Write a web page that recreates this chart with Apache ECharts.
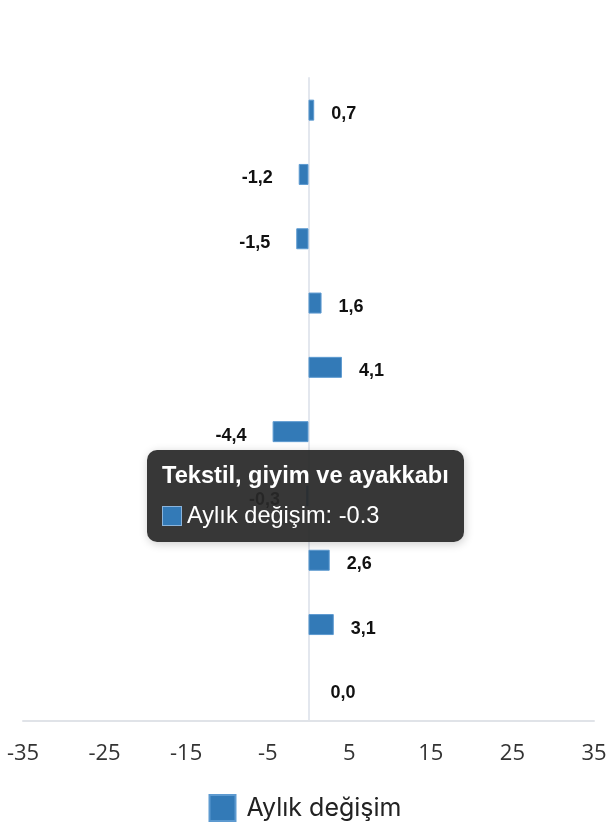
<!DOCTYPE html>
<html>
<head>
<meta charset="utf-8">
<script src="https://cdn.jsdelivr.net/npm/echarts@6/dist/echarts.min.js"></script>
<style>
html,body{margin:0;padding:0;background:#fff;}
#chart{width:610px;height:840px;}
</style>
</head>
<body>
<div id="chart"></div>
<script>
var categories = [
  'Gıda, içecek ve tütün',
  'Bilgisayar ve iletişim ekipmanı',
  'Eczacılık ve tıbbi ürünler',
  'Kozmetik ve kişisel bakım',
  'Otomotiv yakıtı',
  'Elektrikli ev aletleri ve mobilya',
  'Tekstil, giyim ve ayakkabı',
  'Kitap, gazete ve kırtasiye',
  'Posta yoluyla ya da internetten satış',
  'Diğer ürünler'
];
var seriesName = 'Aylık değişim';
var values = [0.7, -1.2, -1.5, 1.6, 4.1, -4.4, -0.3, 2.6, 3.1, 0.0];
var xTicks = {min: -35, max: 35, interval: 10};
var tooltipIndex = 6;

var chart = echarts.init(document.getElementById('chart'));
var barColor = '#337ab7';
var option = {
  animation: false,
  backgroundColor: '#fff',
  grid: {left: 23, right: 16, top: 78, bottom: 119, containLabel: false},
  tooltip: {
    trigger: 'item',
    position: [147, 450],
    backgroundColor: 'rgba(40,40,40,0.93)',
    borderWidth: 0,
    borderRadius: 10,
    padding: [11, 15, 13, 15],
    textStyle: {color: '#fff', fontFamily: 'Liberation Sans, Arial', fontSize: 23},
    formatter: function (p) {
      return '<div style="font-weight:bold;font-size:23.6px;line-height:28px;margin-bottom:12px;white-space:nowrap">' + p.name + '</div>' +
        '<div style="font-size:23.6px;line-height:28px;white-space:nowrap"><span style="display:inline-block;width:20px;height:20px;background:' + barColor + ';border:1px solid #8ab4dc;box-sizing:border-box;vertical-align:-3px;margin-right:5px"></span>' +
        p.seriesName + ': ' + p.value + '</div>';
    }
  },
  legend: {
    bottom: 13,
    left: 'center',
    itemWidth: 26,
    itemHeight: 26,
    icon: 'rect',
    itemGap: 10,
    textStyle: {fontFamily: 'Inter', fontSize: 25, color: '#222', padding: [0, 0, 0, 6]},
    data: [seriesName]
  },
  xAxis: {
    type: 'value',
    min: xTicks.min,
    max: xTicks.max,
    interval: xTicks.interval,
    splitLine: {show: false},
    axisLine: {show: true, onZero: false, lineStyle: {color: '#e0e3e8', width: 2}},
    axisTick: {show: false},
    axisLabel: {fontFamily: 'Open Sans', fontSize: 22, color: '#333', margin: 22}
  },
  yAxis: {
    type: 'category',
    inverse: true,
    data: categories,
    axisLine: {show: true, onZero: true, lineStyle: {color: '#e3e7ee', width: 2}},
    axisTick: {show: false},
    axisLabel: {show: false}
  },
  series: [{
    name: seriesName,
    type: 'bar',
    barWidth: 21,
    itemStyle: {color: barColor, borderColor: '#5d9ad0', borderWidth: 1},
    label: {
      show: true,
      position: 'right',
      distance: 17,
      offset: [0, 4],
      fontFamily: 'Liberation Sans, Arial',
      fontWeight: 'bold',
      fontSize: 18,
      color: '#111',
      formatter: function (p) { return p.value.toFixed(1).replace('.', ','); }
    },
    data: values.map(function (v) {
      if (v < 0) return {value: v, label: {position: 'left', distance: 26}};
      if (v === 0) return {value: v, itemStyle: {borderWidth: 0}, label: {distance: 22}};
      return {value: v};
    })
  }]
};
chart.setOption(option);
chart.dispatchAction({type: 'showTip', seriesIndex: 0, dataIndex: tooltipIndex});
</script>
</body>
</html>
